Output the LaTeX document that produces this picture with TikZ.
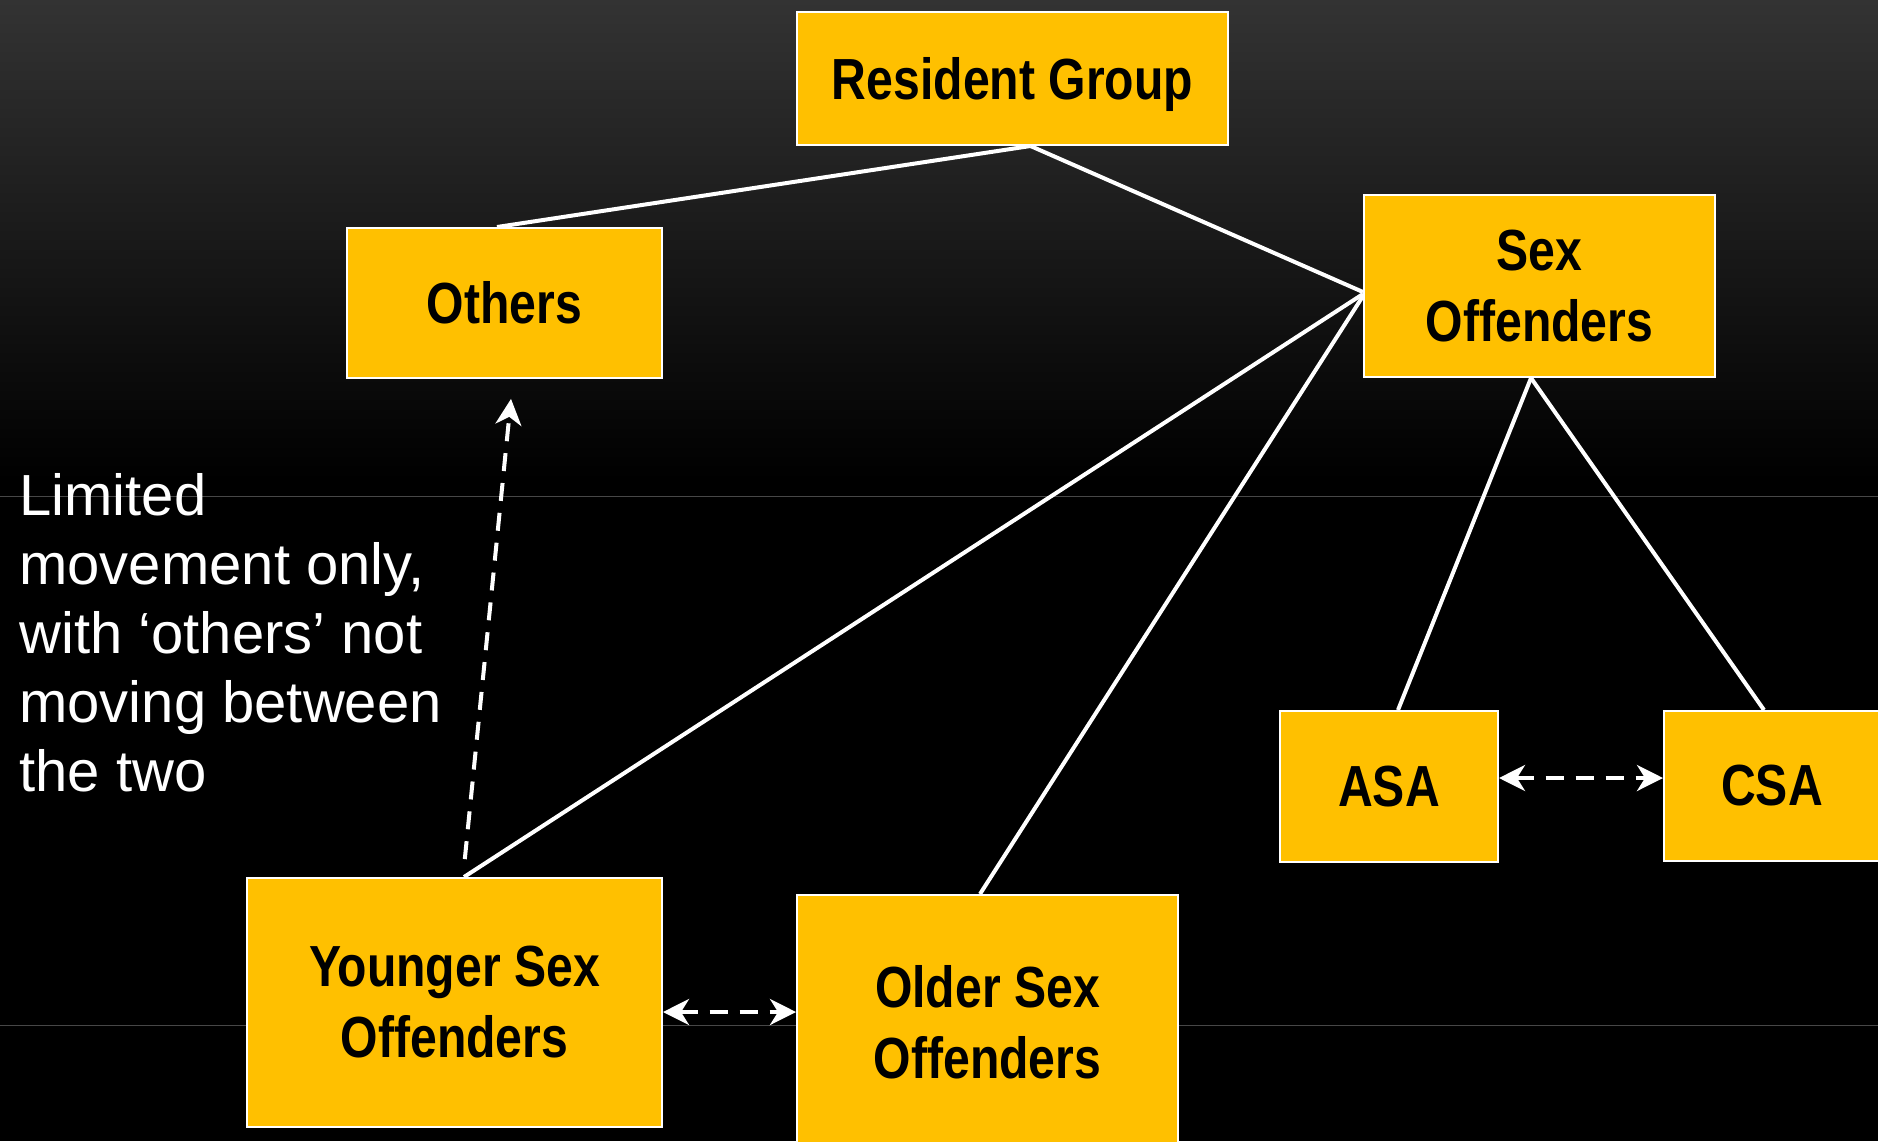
\documentclass[tikz,border=0pt]{standalone}
\usepackage{fontspec}
\setmainfont{Liberation Sans}
\newfontfamily\boxfont{Liberation Sans}[FakeStretch=0.83]
\usetikzlibrary{arrows.meta,calc}
\definecolor{boxyellow}{HTML}{FFC000}
\definecolor{slidegray}{HTML}{333333}
\definecolor{rulegray}{HTML}{474747}
\tikzset{
  group/.style={draw=white, line width=1pt, fill=boxyellow, inner sep=0pt, align=center, text=black,
    font=\boxfont\bfseries\fontsize{29}{35.5}\selectfont},
  link/.style={draw=white, line width=2pt},
  movetip/.tip={Stealth[length=13pt,width=13pt,inset=4pt]},
  move/.style={draw=white, line width=2pt, dash pattern=on 9pt off 6pt, -movetip},
  moveboth/.style={move, movetip-movetip}
}
\begin{document}
\begin{tikzpicture}[x=0.5pt,y=0.5pt,yscale=-1,xscale=1]
\useasboundingbox (0,0) rectangle (1878,1141);
\clip (0,0) rectangle (1878,1141);

%Background
\fill[black] (0,0) rectangle (1878,1141);
\shade[top color=slidegray, bottom color=black] (0,0) rectangle (1878,480);
\draw[rulegray, line width=0.5pt] (0,496) -- (1878,496);
\draw[rulegray, line width=0.5pt] (0,1025) -- (1878,1025);

%Shape: Boxes
\node[group, text depth=0pt, minimum width=215.5pt, minimum height=66.5pt] (res) at (1012.5,78.5) {Resident Group};
\node[group, minimum width=157.5pt, minimum height=75pt] (oth) at (504.5,303) {Others};
\node[group, minimum width=175.5pt, minimum height=91pt] (sex) at (1539.5,286) {Sex\\Offenders};
\node[group, minimum width=109pt, minimum height=75.5pt] (asa) at (1389,786.5) {ASA};
\node[group, minimum width=108pt, minimum height=75pt] (csa) at (1772,786) {CSA};
\node[group, minimum width=207.5pt, minimum height=124.5pt] (yng) at (454.5,1002.5) {Younger Sex\\Offenders};
\node[group, minimum width=190.5pt, minimum height=127pt] (old) at (987.5,1022) {Older Sex\\Offenders};

%Straight Lines
\draw[link] ([xshift=9pt]res.south) -- ([xshift=-3.75pt]oth.north);
\draw[link] ([xshift=9pt]res.south) -- ($(sex.west)+(0,6)$);
\draw[link] ([xshift=4.75pt]yng.north) -- ($(sex.west)+(0,8)$);
\draw[link] ([xshift=-3.75pt]old.north) -- ($(sex.west)+(0,10)$);
\draw[link] ([xshift=-4.25pt]sex.south) -- ([xshift=4.5pt]asa.north);
\draw[link] ([xshift=-4.25pt]sex.south) -- ([xshift=-4pt]csa.north);

%Dashed arrows
\draw[move, shorten <=9pt, shorten >=10pt] ([xshift=4.25pt]yng.north) -- ([xshift=4.25pt]oth.south);
\draw[moveboth] ($(yng.east)+(0,9.5)$) -- ($(old.west)+(0,-10)$);
\draw[moveboth] ($(asa.east)+(0,-8.5)$) -- ($(csa.west)+(0,-8)$);

% Text Node
\node[anchor=north west, inner sep=0pt, align=left, text=white, font=\fontsize{29}{34.5}\selectfont] (note) at (19,473) {Limited\\movement only,\\with ‘others’ not\\moving between\\the two};

\end{tikzpicture}
\end{document}
